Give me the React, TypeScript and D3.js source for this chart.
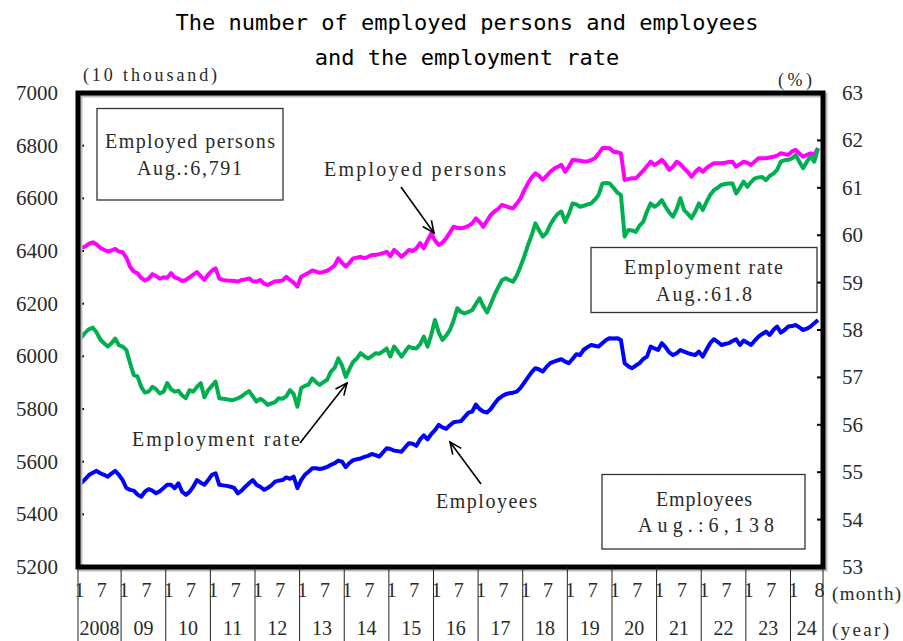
import React from 'react';
import * as d3 from 'd3';

// monthly data, Jan 2008 .. Aug 2024 (seasonally adjusted)
const employedPersons = [
  6420, 6412, 6418, 6428, 6433, 6425, 6412, 6405, 6398, 6402, 6408, 6398,
  6395, 6375, 6340, 6322, 6315, 6298, 6288, 6295, 6312, 6305, 6295, 6300,
  6298, 6316, 6300, 6295, 6286, 6290, 6300, 6310, 6320, 6305, 6290, 6310,
  6325, 6334, 6295, 6290, 6288, 6287, 6286, 6284, 6290, 6292, 6296, 6285,
  6284, 6290, 6276, 6271, 6278, 6285, 6286, 6288, 6302, 6290, 6280, 6265,
  6302, 6310, 6317, 6326, 6322, 6317, 6321, 6325, 6334, 6345, 6372, 6355,
  6341, 6355, 6372, 6375, 6378, 6373, 6378, 6385, 6385, 6388, 6392, 6397,
  6380, 6404, 6392, 6378, 6390, 6404, 6400, 6410, 6430, 6410, 6440, 6467,
  6440, 6423, 6432, 6448, 6470, 6492, 6488, 6486, 6490, 6495, 6505, 6524,
  6510, 6492, 6515, 6537, 6550, 6560, 6575, 6570, 6565, 6562, 6580, 6600,
  6630, 6657, 6680, 6695, 6685, 6670, 6685, 6701, 6712, 6720, 6727, 6701,
  6720, 6746, 6745, 6743, 6740, 6740, 6745, 6752, 6770, 6790, 6792, 6790,
  6777, 6775, 6771, 6670, 6673, 6676, 6676, 6690, 6705, 6722, 6739, 6727,
  6735, 6746, 6730, 6708, 6720, 6739, 6730, 6714, 6700, 6682, 6700, 6714,
  6701, 6715, 6725, 6733, 6733, 6733, 6735, 6738, 6739, 6720, 6730, 6739,
  6735, 6727, 6740, 6752, 6752, 6752, 6755, 6758, 6762, 6771, 6768, 6765,
  6778, 6784, 6770, 6758, 6765, 6771, 6765, 6791,
];

const employmentRate = [
  58.0, 57.85, 57.95, 58.02, 58.05, 57.95, 57.8, 57.72, 57.65, 57.72, 57.82, 57.68,
  57.65, 57.58, 57.3, 57.05, 57.02, 56.8, 56.68, 56.7, 56.8, 56.75, 56.66, 56.7,
  56.88, 56.75, 56.7, 56.72, 56.62, 56.56, 56.73, 56.7, 56.8, 56.88, 56.58, 56.73,
  56.82, 56.91, 56.56, 56.55, 56.54, 56.52, 56.53, 56.56, 56.6, 56.66, 56.71, 56.6,
  56.49, 56.55, 56.5, 56.42, 56.45, 56.48, 56.56, 56.55, 56.6, 56.73, 56.65, 56.38,
  56.77, 56.82, 56.85, 56.98, 56.9, 56.84, 56.9, 56.95, 57.12, 57.2, 57.4, 57.25,
  57.01, 57.18, 57.33, 57.4, 57.51, 57.45, 57.4, 57.45, 57.51, 57.5, 57.55, 57.61,
  57.44, 57.65, 57.55, 57.44, 57.55, 57.65, 57.62, 57.61, 57.7, 57.86, 57.65, 57.9,
  58.21, 57.95, 57.79, 57.88, 58.0, 58.2, 58.46, 58.38, 58.35, 58.38, 58.42, 58.55,
  58.67, 58.5, 58.37, 58.55, 58.74, 58.9, 59.05, 59.09, 59.05, 59.02, 59.15, 59.34,
  59.55, 59.79, 60.0, 60.25, 60.1, 59.97, 60.05, 60.22, 60.35, 60.45, 60.5, 60.28,
  60.45, 60.67, 60.65, 60.6, 60.62, 60.65, 60.67, 60.75, 60.85, 61.09, 61.1, 61.09,
  61.0, 60.9, 60.85, 59.97, 60.11, 60.1, 60.07, 60.2, 60.28, 60.5, 60.67, 60.6,
  60.65, 60.74, 60.6, 60.48, 60.39, 60.55, 60.78, 60.53, 60.45, 60.36, 60.5, 60.67,
  60.53, 60.7, 60.85, 60.95, 61.0, 61.06, 61.08, 61.09, 61.09, 60.88, 61.0, 61.13,
  61.02, 61.12, 61.2, 61.22, 61.23, 61.16, 61.25, 61.3, 61.38, 61.55, 61.58, 61.59,
  61.62, 61.69, 61.55, 61.41, 61.55, 61.66, 61.55, 61.83,
];

const employees = [
  5537, 5520, 5535, 5550, 5558, 5565, 5556, 5550, 5543, 5555, 5565, 5550,
  5530, 5500, 5493, 5490, 5475, 5467, 5486, 5496, 5490, 5480, 5488, 5500,
  5512, 5512, 5499, 5518, 5486, 5474, 5485, 5505, 5530, 5520, 5512, 5530,
  5550, 5556, 5512, 5510, 5508, 5505, 5500, 5480, 5490, 5505, 5518, 5530,
  5512, 5505, 5493, 5500, 5510, 5524, 5528, 5530, 5540, 5535, 5543, 5499,
  5530, 5550, 5562, 5575, 5575, 5572, 5575, 5580, 5588, 5594, 5604, 5600,
  5579, 5595, 5606, 5609, 5612, 5618, 5622, 5629, 5625, 5619, 5635, 5651,
  5648, 5642, 5640, 5638, 5655, 5670, 5668, 5660, 5685, 5700, 5685, 5705,
  5720, 5740, 5730, 5725, 5738, 5750, 5752, 5754, 5770, 5786, 5790, 5817,
  5800, 5790, 5787, 5800, 5820, 5838, 5848, 5856, 5860, 5862, 5866, 5880,
  5900, 5920, 5940, 5955, 5950, 5942, 5960, 5974, 5980, 5985, 5989, 5980,
  5974, 5990, 6008, 6005, 6025, 6035, 6043, 6040, 6037, 6050, 6062, 6069,
  6068, 6069, 6062, 5974, 5962, 5955, 5965, 5974, 5990, 5999, 6037, 6030,
  6024, 6050, 6035, 6015, 6005, 6012, 6024, 6018, 6012, 6008, 6005, 6018,
  5999, 6025, 6050, 6065, 6055, 6043, 6047, 6050, 6058, 6065, 6043, 6060,
  6052, 6043, 6060, 6075, 6085, 6094, 6081, 6100, 6113, 6090, 6100, 6113,
  6115, 6119, 6110, 6100, 6105, 6113, 6126, 6138,
];

const yearLabels = ['2008', '09', '10', '11', '12', '13', '14', '15', '16', '17', '18', '19', '20', '21', '22', '23', '24'];
const leftTicks = [5200, 5400, 5600, 5800, 6000, 6200, 6400, 6600, 6800, 7000];
const rightTicks = [53, 54, 55, 56, 57, 58, 59, 60, 61, 62, 63];

const W = 903;
const H = 641;
const plot = { left: 78, top: 93, right: 823, bottom: 567 };

const SERIF = '"Liberation Serif", "DejaVu Serif", serif';
const MONO = '"DejaVu Sans Mono", "Liberation Mono", monospace';

const Arrow = ({ x1, y1, x2, y2 }: { x1: number; y1: number; x2: number; y2: number }) => {
  const a = Math.atan2(y2 - y1, x2 - x1);
  const len = 13;
  const spread = 0.42;
  const p1 = [x2 - len * Math.cos(a - spread), y2 - len * Math.sin(a - spread)];
  const p2 = [x2 - len * Math.cos(a + spread), y2 - len * Math.sin(a + spread)];
  return (
    <g stroke="#000" strokeWidth={1.6} fill="none">
      <line x1={x1} y1={y1} x2={x2} y2={y2} />
      <polyline points={`${p1[0]},${p1[1]} ${x2},${y2} ${p2[0]},${p2[1]}`} />
    </g>
  );
};

// half-width mincho look: serif glyphs spread to a fixed length
const Label = ({ x, y, text, len, size = 20 }: { x: number; y: number; text: string; len: number; size?: number }) => (
  <text x={x} y={y} fontFamily={SERIF} fontSize={size} fill="#2a2a2a" textLength={len} lengthAdjust="spacing">
    {text}
  </text>
);

export default function App() {
  const x = d3.scaleLinear().domain([0, 199]).range([78, 818]);
  const yLeft = d3.scaleLinear().domain([5200, 7000]).range([plot.bottom, plot.top]);
  const yRight = d3.scaleLinear().domain([53, 63]).range([plot.bottom, plot.top]);

  const lineLeft = d3.line<number>().x((_, i) => x(i)).y(d => yLeft(d));
  const lineRight = d3.line<number>().x((_, i) => x(i)).y(d => yRight(d));

  const seps = yearLabels.map((_, k) => x(k * 12) - 1.5);
  seps[0] = plot.left;
  const sepEnds = [...seps, plot.right];

  return (
    <svg width={W} height={H} style={{ position: 'absolute', left: 0, top: 0, background: '#fff' }}>
      {/* title */}
      <text x={467} y={30} textAnchor="middle" fontFamily={MONO} fontSize={22} fill="#000">
        The number of employed persons and employees
      </text>
      <text x={467} y={65} textAnchor="middle" fontFamily={MONO} fontSize={22} fill="#000">
        and the employment rate
      </text>

      <Label x={83} y={81} text="(10 thousand)" len={134} size={18} />
      <Label x={778} y={86} text="(%)" len={34} size={18} />

      {/* left axis */}
      {leftTicks.map(v => (
        <g key={v}>
          <text x={58} y={yLeft(v) + 7} textAnchor="end" fontFamily={SERIF} fontSize={21} fill="#2a2a2a">{v}</text>
          <line x1={plot.left} x2={plot.left + 6} y1={yLeft(v)} y2={yLeft(v)} stroke="#000" strokeWidth={2} />
        </g>
      ))}
      {/* right axis */}
      {rightTicks.map(v => (
        <g key={v}>
          <text x={842} y={yRight(v) + 7} fontFamily={SERIF} fontSize={21} fill="#2a2a2a">{v}</text>
          <line x1={plot.right - 6} x2={plot.right} y1={yRight(v)} y2={yRight(v)} stroke="#000" strokeWidth={2} />
        </g>
      ))}

      {/* series */}
      <path d={lineLeft(employedPersons) ?? ''} fill="none" stroke="#ff00ff" strokeWidth={4} strokeLinejoin="round" />
      <path d={lineRight(employmentRate) ?? ''} fill="none" stroke="#00b050" strokeWidth={4} strokeLinejoin="round" />
      <path d={lineLeft(employees) ?? ''} fill="none" stroke="#0000ff" strokeWidth={4} strokeLinejoin="round" />

      {/* frame, with a faint shadow */}
      <rect x={plot.left + 2} y={plot.top + 2} width={plot.right - plot.left} height={plot.bottom - plot.top}
        fill="none" stroke="#bbb" strokeWidth={5} />
      <rect x={plot.left} y={plot.top} width={plot.right - plot.left} height={plot.bottom - plot.top}
        fill="none" stroke="#000" strokeWidth={5} />

      {/* x axis: year separators and labels */}
      {sepEnds.map((sx, k) => (
        <line key={k} x1={sx} x2={sx} y1={plot.bottom} y2={H} stroke="#222" strokeWidth={1} />
      ))}
      {yearLabels.map((yl, k) => {
        const last = k === yearLabels.length - 1;
        const m2 = last ? 199 : k * 12 + 6;
        return (
          <g key={yl} fontFamily={SERIF} fontSize={20} fill="#2a2a2a" textAnchor="middle">
            <text x={x(k * 12) + 1.5} y={597}>1</text>
            <text x={x(m2) + 1.5} y={597}>{last ? '8' : '7'}</text>
            <text x={(sepEnds[k] + sepEnds[k + 1]) / 2} y={635}>{yl}</text>
          </g>
        );
      })}
      <Label x={832} y={600} text="(month)" len={69} size={19} />
      <Label x={832} y={636} text="(year)" len={57} size={19} />

      {/* boxes */}
      <rect x={97} y={108.5} width={186} height={91.5} fill="#fff" stroke="#333" strokeWidth={1.3} />
      <Label x={105} y={148} text="Employed persons" len={170} />
      <Label x={137} y={175} text="Aug.:6,791" len={105} />

      <rect x={591} y={247.5} width={226} height={65} fill="#fff" stroke="#333" strokeWidth={1.3} />
      <Label x={624} y={274} text="Employment rate" len={159} />
      <Label x={656} y={301} text="Aug.:61.8" len={96} />

      <rect x={602} y={474.5} width={203} height={74.5} fill="#fff" stroke="#333" strokeWidth={1.3} />
      <Label x={656} y={506} text="Employees" len={96} />
      <Label x={638} y={532} text="Aug.:6,138" len={136} />

      {/* annotations */}
      <Label x={324} y={176} text="Employed persons" len={182} />
      <Arrow x1={401} y1={187} x2={434} y2={233} />
      <Label x={132} y={446} text="Employment rate" len={168} />
      <Arrow x1={300} y1={443} x2={347} y2={383} />
      <Label x={436} y={508} text="Employees" len={101} />
      <Arrow x1={481} y1={484} x2={450} y2={442} />
    </svg>
  );
}
